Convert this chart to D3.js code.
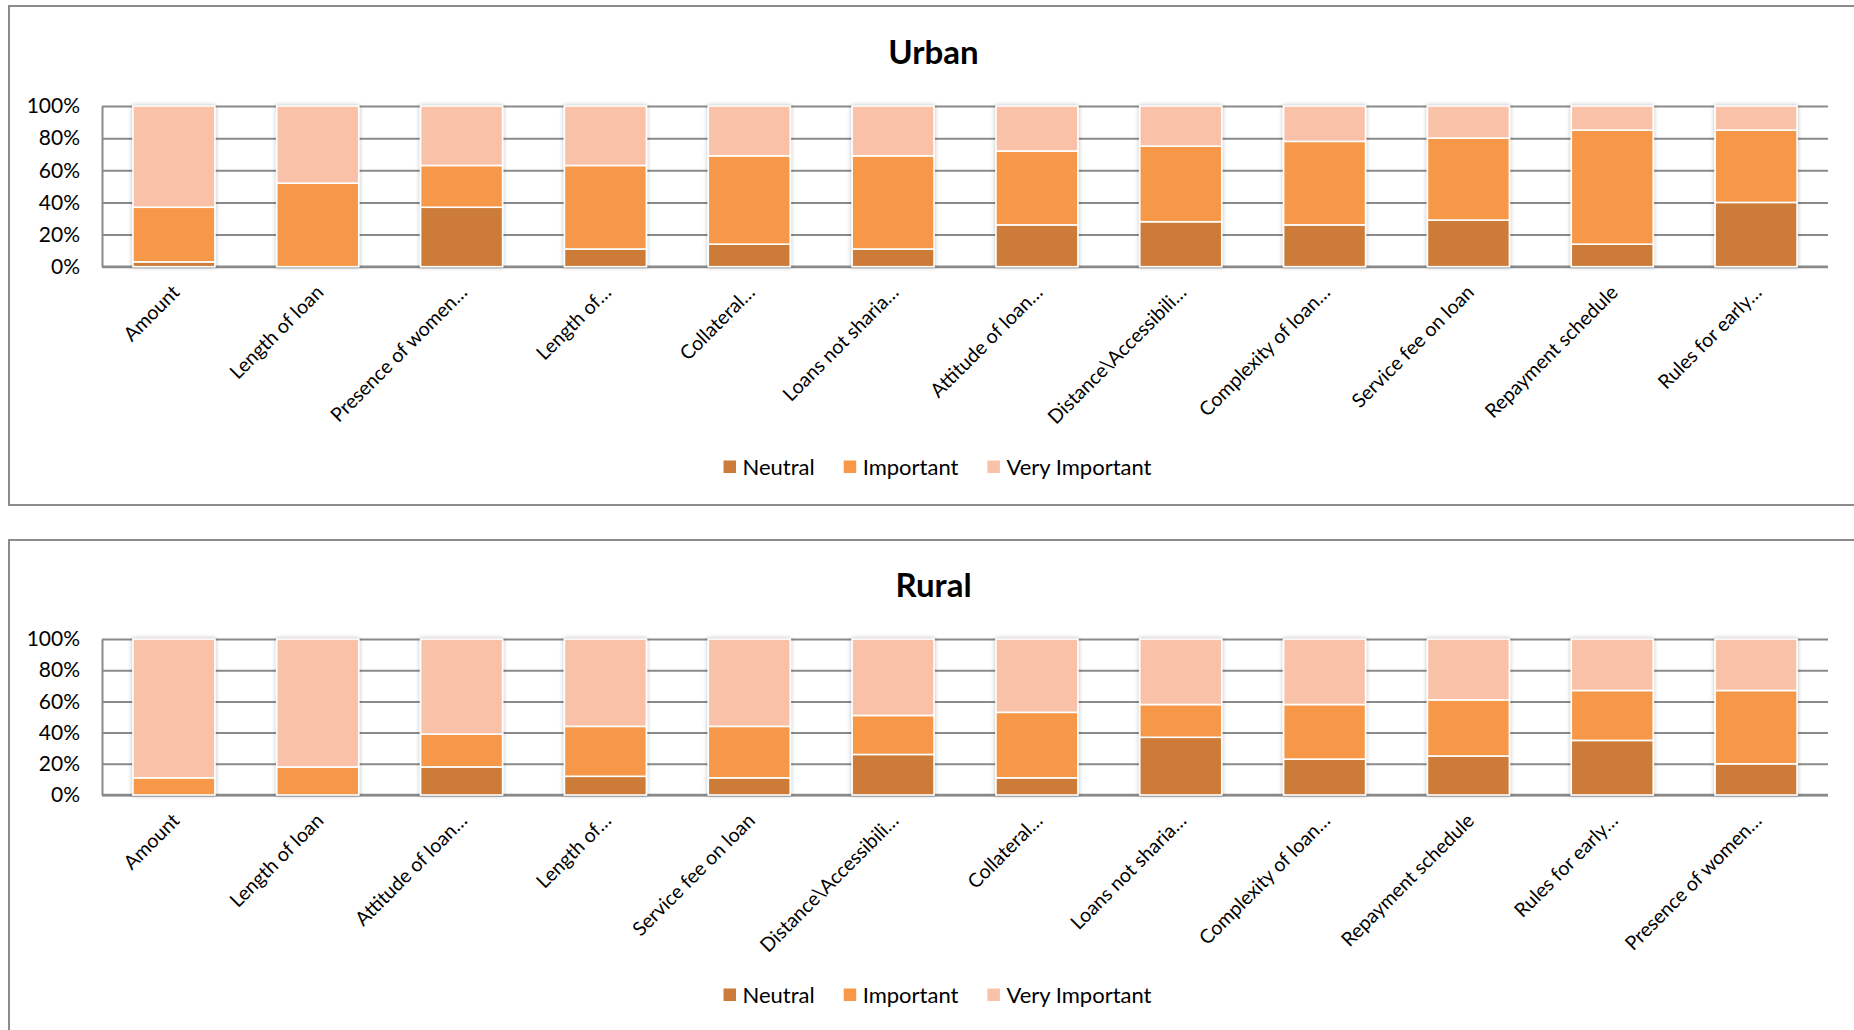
<!DOCTYPE html>
<html>
<head>
<meta charset="utf-8">
<script src="https://cdn.jsdelivr.net/npm/d3@7"></script>
<style>
  html, body { margin: 0; padding: 0; background: #ffffff; }
  svg { display: block; }
  text { font-family: Lato, "Open Sans", sans-serif; fill: #000; }
</style>
</head>
<body>
<svg id="chart" width="1854" height="1030"></svg>
<script>
// Share of respondents rating each loan feature, by area
const seriesNames = ["Neutral", "Important", "Very Important"];
const seriesColors = ["#CC7B38", "#F79848", "#F9C2A8"];
const tickValues = [0, 20, 40, 60, 80, 100];
const tickLabels = ["0%", "20%", "40%", "60%", "80%", "100%"];

const urbanCategories = ["Amount", "Length of loan", "Presence of women\u2026", "Length of\u2026",
  "Collateral\u2026", "Loans not sharia\u2026", "Attitude of loan\u2026", "Distance\\Accessibili\u2026",
  "Complexity of loan\u2026", "Service fee on loan", "Repayment schedule", "Rules for early\u2026"];
const urbanNeutral       = [3, 0, 37, 11, 14, 11, 26, 28, 26, 29, 14, 40];
const urbanImportant     = [34, 52, 26, 52, 55, 58, 46, 47, 52, 51, 71, 45];
const urbanVeryImportant = [63, 48, 37, 37, 31, 31, 28, 25, 22, 20, 15, 15];

const ruralCategories = ["Amount", "Length of loan", "Attitude of loan\u2026", "Length of\u2026",
  "Service fee on loan", "Distance\\Accessibili\u2026", "Collateral\u2026", "Loans not sharia\u2026",
  "Complexity of loan\u2026", "Repayment schedule", "Rules for early\u2026", "Presence of women\u2026"];
const ruralNeutral       = [0, 0, 18, 12, 11, 26, 11, 37, 23, 25, 35, 20];
const ruralImportant     = [11, 18, 21, 32, 33, 25, 42, 21, 35, 36, 32, 47];
const ruralVeryImportant = [89, 82, 61, 56, 56, 49, 47, 42, 42, 39, 33, 33];

const svg = d3.select("#chart");

// soft halo behind the bars
const defs = svg.append("defs");
const shadow = defs.append("filter").attr("id", "barShadow")
  .attr("x", "-20%").attr("y", "-10%").attr("width", "140%").attr("height", "120%");
shadow.append("feDropShadow").attr("dx", 0).attr("dy", 0).attr("stdDeviation", 2)
  .attr("flood-color", "#000").attr("flood-opacity", 0.28);

function drawPanel(opts) {
  const { title, categories, neutral, important, veryImportant, top, plotTop, plotBottom, legendY } = opts;
  const plotLeft = 102, plotRight = 1828;

  const g = svg.append("g");

  // chart frame
  g.append("rect")
    .attr("x", 9).attr("y", top).attr("width", 1850).attr("height", opts.frameHeight)
    .attr("fill", "#fff").attr("stroke", "#8c8c8c").attr("stroke-width", 2);

  g.append("text")
    .attr("x", 933.5).attr("y", opts.titleY)
    .attr("text-anchor", "middle")
    .style("font-size", "33px").style("font-weight", "bold")
    .text(title);

  const rows = categories.map((c, i) => ({
    category: c,
    "Neutral": neutral[i],
    "Important": important[i],
    "Very Important": veryImportant[i]
  }));

  const x = d3.scaleBand()
    .domain(categories)
    .range([plotLeft, plotRight])
    .paddingInner(0.43)
    .paddingOuter(0.215);

  const y = d3.scaleLinear().domain([0, 100]).range([plotBottom, plotTop]);

  // value axis with gridlines
  const yAxis = d3.axisLeft(y)
    .tickValues(tickValues)
    .tickFormat((d, i) => tickLabels[i])
    .tickSizeInner(-(plotRight - plotLeft))
    .tickSizeOuter(0)
    .tickPadding(22);

  const ag = g.append("g").attr("transform", `translate(${plotLeft},0)`).call(yAxis);
  ag.select(".domain").attr("stroke", "#8a8a8a").attr("stroke-width", 2);
  ag.selectAll(".tick line").attr("stroke", "#8a8a8a").attr("stroke-width", 2);
  ag.selectAll(".tick text")
    .style("font-family", "Lato, 'Open Sans', sans-serif")
    .style("font-size", "21px").attr("fill", "#000");

  // category axis baseline
  g.append("line")
    .attr("x1", plotLeft).attr("x2", plotRight)
    .attr("y1", y(0)).attr("y2", y(0))
    .attr("stroke", "#8a8a8a").attr("stroke-width", 2.5);

  const stacked = d3.stack().keys(seriesNames)(rows);

  const bars = g.append("g").attr("filter", "url(#barShadow)");
  bars.selectAll("g.series")
    .data(stacked)
    .join("g")
    .attr("class", "series")
    .attr("fill", (d, i) => seriesColors[i])
    .selectAll("rect")
    .data(d => d.filter(s => s[1] - s[0] > 0))
    .join("rect")
    .attr("x", d => x(d.data.category))
    .attr("width", x.bandwidth())
    .attr("y", d => y(d[1]))
    .attr("height", d => y(d[0]) - y(d[1]))
    .attr("stroke", "#fff")
    .attr("stroke-width", 1.6);

  // rotated category labels
  g.append("g").selectAll("text")
    .data(categories)
    .join("text")
    .attr("transform", d => `translate(${x(d) + x.bandwidth() / 2 + 2},${y(0) + 22}) rotate(-45)`)
    .attr("text-anchor", "end")
    .attr("dy", "0.35em")
    .style("font-size", "19.6px")
    .text(d => d);

  // legend
  const lg = g.append("g");
  const items = lg.selectAll("g").data(seriesNames).join("g");
  items.append("rect")
    .attr("width", 12.5).attr("height", 12.5)
    .attr("y", -6.5)
    .attr("fill", (d, i) => seriesColors[i]);
  items.append("text")
    .attr("x", 19).attr("dy", "0.36em")
    .style("font-size", "22px")
    .text(d => d);
  let cx = 0;
  items.each(function () {
    d3.select(this).attr("transform", `translate(${cx},0)`);
    const w = 19 + d3.select(this).select("text").node().getComputedTextLength();
    cx += w + 29;
  });
  const total = cx - 29;
  lg.attr("transform", `translate(${937.5 - total / 2},${legendY})`);
}

drawPanel({
  title: "Urban",
  categories: urbanCategories,
  neutral: urbanNeutral,
  important: urbanImportant,
  veryImportant: urbanVeryImportant,
  top: 6, frameHeight: 499,
  titleY: 63.5,
  plotTop: 106, plotBottom: 266.7,
  legendY: 467
});

drawPanel({
  title: "Rural",
  categories: ruralCategories,
  neutral: ruralNeutral,
  important: ruralImportant,
  veryImportant: ruralVeryImportant,
  top: 540, frameHeight: 600,
  titleY: 596.5,
  plotTop: 639, plotBottom: 795,
  legendY: 995
});
</script>
</body>
</html>
